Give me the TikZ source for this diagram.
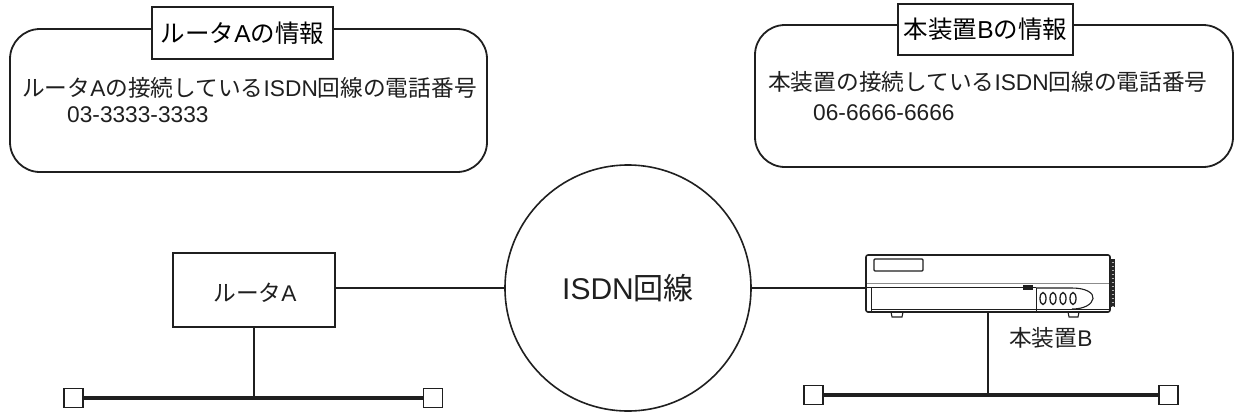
\documentclass[tikz,border=0pt]{standalone}
\usepackage{fontspec}
\setmainfont{Noto Sans CJK JP}
\newfontfamily\lat{Liberation Sans}
\begin{document}
\begin{tikzpicture}[x=1pt,y=-1pt,
  ink/.style={draw=black!88},
  infobox/.style={ink,line width=1.8pt,rounded corners=30pt,minimum width=#1},
  titlebox/.style={ink,line width=1.8pt,fill=white,inner sep=0pt,font=\fontsize{24.5}{28}\selectfont},
  bodytext/.style={inner sep=0pt,anchor=west,text=black!88,font=\fontsize{22.7}{27}\selectfont},
  labeltext/.style={inner sep=0pt,text=black!88,font=\fontsize{22.7}{26}\selectfont},
  routerbox/.style={ink,line width=1.6pt,minimum width=162pt,minimum height=74pt,inner sep=0pt},
  netcircle/.style={ink,circle,line width=1.6pt,minimum size=246pt,inner sep=0pt,text=black!88,font=\fontsize{30}{34}\selectfont},
  term/.style={ink,line width=1.4pt,minimum size=19pt,inner sep=0pt,fill=white},
  wire/.style={black!88,line width=1.4pt},
  bus/.style={black!88,line width=4pt},
  thin/.style={black!88,line width=0.9pt}]
\useasboundingbox (0,0) rectangle (1236,416);

% information panels
\node[infobox=477pt,minimum height=143pt] (infoA) at (248.5,100.5) {};
\node[titlebox,minimum width=181pt,minimum height=52pt] (titleA) at (242.5,33) {ルータ{\lat A}の情報};
\node[bodytext] (lineA) at (22,88) {ルータ{\lat A}の接続している{\lat ISDN}回線の電話番号};
\node[bodytext] (numA) at (67,115) {\lat 03-3333-3333};

\node[infobox=478pt,minimum height=142pt] (infoB) at (994,96) {};
\node[titlebox,minimum width=175pt,minimum height=51pt] (titleB) at (985.5,29.5) {本装置{\lat B}の情報};
\node[bodytext] (lineB) at (768,82) {本装置の接続している{\lat ISDN}回線の電話番号};
\node[bodytext] (numB) at (813,113) {\lat 06-6666-6666};

% network cloud
\node[netcircle] (isdn) at (628,288) {{\lat ISDN}回線};

% router side
\node[routerbox] (router) at (254,290) {};
\node[labeltext] (routerlbl) at (255,293) {ルータ{\lat A}};
\node[term] (tA1) at (73.5,398) {};
\node[term] (tA2) at (433,398) {};
\draw[bus] (tA1.east) -- (tA2.west);
\draw[wire] (router.east |- isdn.west) -- (isdn.west);
\draw[wire] (router.south) -- (router.south |- tA1.east);

% device side
\node[ink,line width=1.6pt,rounded corners=2pt,minimum width=244pt,minimum height=57pt,inner sep=0pt] (dev) at (988,283.5) {};
\draw[line width=1.3pt,black!88,rounded corners=1pt] (874,259) rectangle (923,271);
\draw[black!45,line width=0.8pt] (867,283) -- (1109,283);
\draw[thin,line width=1.2pt] (867,287.5) -- (1036,287.5);
\draw[thin] (871,287.5) -- (871,311);
\draw[thin] (871,309) -- (1109,309);
\draw[thin] (1036,287.5) -- (1036,311);
\draw[thin,line width=1.1pt] (1036,288) -- (1072,288)
  .. controls (1086,288) and (1094,293) .. (1093,298.5)
  .. controls (1092,304) and (1085,309) .. (1072,309);
\fill[black!88] (1023,285) rectangle (1033,290);
\foreach \zx in {1043,1053,1063,1073}
  \draw[black!88,line width=1.3pt] (\zx,298.5) ellipse [x radius=3pt,y radius=6pt];
\draw[thin,line width=1.1pt] (891,312) -- (892,317) -- (902,317) -- (903,312);
\draw[thin,line width=1.1pt] (1068,312) -- (1069,317) -- (1078,317) -- (1079,312);
\fill[black!85] (1110,259) rectangle (1115,307);
\foreach \gy in {262,266,...,306}
  \draw[white!70!black,line width=0.5pt] (1111.5,\gy) -- (1114,\gy);
\node[labeltext,anchor=west] (devlbl) at (1009,338) {本装置{\lat B}};

\node[term] (tB1) at (813.5,395) {};
\node[term] (tB2) at (1168.5,395) {};
\draw[bus] (tB1.east) -- (tB2.west);
\draw[wire] (isdn.east) -- (isdn.east -| dev.west);
\draw[wire] (dev.south) -- (dev.south |- tB1.east);
\end{tikzpicture}
\end{document}
